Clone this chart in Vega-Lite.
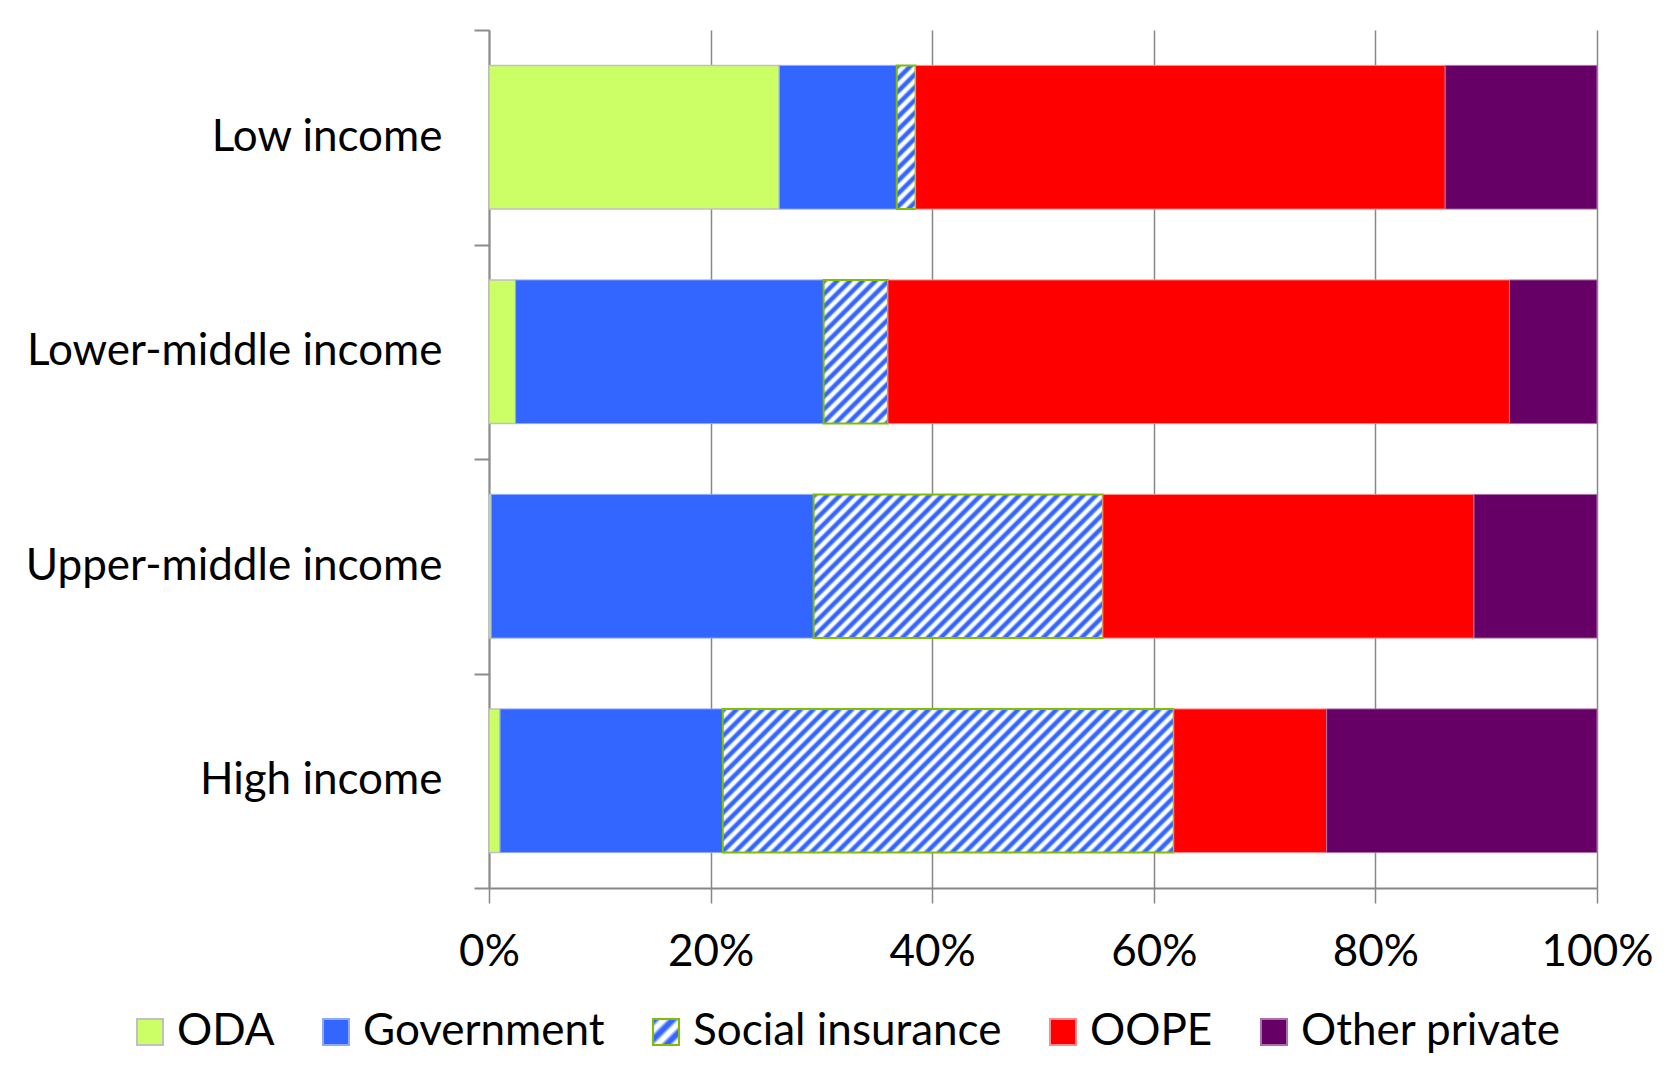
{
  "$schema": "https://vega.github.io/schema/vega-lite/v6.json",
  "width": 1108,
  "height": 858,
  "autosize": {"type": "none"},
  "padding": {"left": 489, "top": 30, "right": 82, "bottom": 196},
  "background": "white",
  "config": {"view": {"stroke": null}, "font": "Lato"},
  "params": [
    {"name": "hatch", "value": [
      {"offset":0,"color":"#36f"},{"offset":0.004,"color":"#36f"},{"offset":0.008,"color":"#fff"},{"offset":0.012,"color":"#fff"},
      {"offset":0.016,"color":"#36f"},{"offset":0.02,"color":"#36f"},{"offset":0.024,"color":"#fff"},{"offset":0.028,"color":"#fff"},
      {"offset":0.032,"color":"#36f"},{"offset":0.036,"color":"#36f"},{"offset":0.04,"color":"#fff"},{"offset":0.044,"color":"#fff"},
      {"offset":0.048,"color":"#36f"},{"offset":0.052,"color":"#36f"},{"offset":0.056,"color":"#fff"},{"offset":0.06,"color":"#fff"},
      {"offset":0.064,"color":"#36f"},{"offset":0.068,"color":"#36f"},{"offset":0.072,"color":"#fff"},{"offset":0.076,"color":"#fff"},
      {"offset":0.08,"color":"#36f"},{"offset":0.084,"color":"#36f"},{"offset":0.088,"color":"#fff"},{"offset":0.092,"color":"#fff"},
      {"offset":0.096,"color":"#36f"},{"offset":0.1,"color":"#36f"},{"offset":0.104,"color":"#fff"},{"offset":0.108,"color":"#fff"},
      {"offset":0.112,"color":"#36f"},{"offset":0.116,"color":"#36f"},{"offset":0.12,"color":"#fff"},{"offset":0.124,"color":"#fff"},
      {"offset":0.128,"color":"#36f"},{"offset":0.132,"color":"#36f"},{"offset":0.136,"color":"#fff"},{"offset":0.14,"color":"#fff"},
      {"offset":0.144,"color":"#36f"},{"offset":0.148,"color":"#36f"},{"offset":0.152,"color":"#fff"},{"offset":0.156,"color":"#fff"},
      {"offset":0.16,"color":"#36f"},{"offset":0.164,"color":"#36f"},{"offset":0.168,"color":"#fff"},{"offset":0.172,"color":"#fff"},
      {"offset":0.176,"color":"#36f"},{"offset":0.18,"color":"#36f"},{"offset":0.184,"color":"#fff"},{"offset":0.188,"color":"#fff"},
      {"offset":0.192,"color":"#36f"},{"offset":0.196,"color":"#36f"},{"offset":0.2,"color":"#fff"},{"offset":0.204,"color":"#fff"},
      {"offset":0.208,"color":"#36f"},{"offset":0.212,"color":"#36f"},{"offset":0.216,"color":"#fff"},{"offset":0.22,"color":"#fff"},
      {"offset":0.224,"color":"#36f"},{"offset":0.228,"color":"#36f"},{"offset":0.232,"color":"#fff"},{"offset":0.236,"color":"#fff"},
      {"offset":0.24,"color":"#36f"},{"offset":0.244,"color":"#36f"},{"offset":0.248,"color":"#fff"},{"offset":0.252,"color":"#fff"},
      {"offset":0.256,"color":"#36f"},{"offset":0.26,"color":"#36f"},{"offset":0.264,"color":"#fff"},{"offset":0.268,"color":"#fff"},
      {"offset":0.272,"color":"#36f"},{"offset":0.276,"color":"#36f"},{"offset":0.28,"color":"#fff"},{"offset":0.284,"color":"#fff"},
      {"offset":0.288,"color":"#36f"},{"offset":0.292,"color":"#36f"},{"offset":0.296,"color":"#fff"},{"offset":0.3,"color":"#fff"},
      {"offset":0.304,"color":"#36f"},{"offset":0.308,"color":"#36f"},{"offset":0.312,"color":"#fff"},{"offset":0.316,"color":"#fff"},
      {"offset":0.32,"color":"#36f"},{"offset":0.324,"color":"#36f"},{"offset":0.328,"color":"#fff"},{"offset":0.332,"color":"#fff"},
      {"offset":0.336,"color":"#36f"},{"offset":0.34,"color":"#36f"},{"offset":0.344,"color":"#fff"},{"offset":0.348,"color":"#fff"},
      {"offset":0.352,"color":"#36f"},{"offset":0.356,"color":"#36f"},{"offset":0.36,"color":"#fff"},{"offset":0.364,"color":"#fff"},
      {"offset":0.368,"color":"#36f"},{"offset":0.372,"color":"#36f"},{"offset":0.376,"color":"#fff"},{"offset":0.38,"color":"#fff"},
      {"offset":0.384,"color":"#36f"},{"offset":0.388,"color":"#36f"},{"offset":0.392,"color":"#fff"},{"offset":0.396,"color":"#fff"},
      {"offset":0.4,"color":"#36f"},{"offset":0.404,"color":"#36f"},{"offset":0.408,"color":"#fff"},{"offset":0.412,"color":"#fff"},
      {"offset":0.416,"color":"#36f"},{"offset":0.42,"color":"#36f"},{"offset":0.424,"color":"#fff"},{"offset":0.428,"color":"#fff"},
      {"offset":0.432,"color":"#36f"},{"offset":0.436,"color":"#36f"},{"offset":0.44,"color":"#fff"},{"offset":0.444,"color":"#fff"},
      {"offset":0.448,"color":"#36f"},{"offset":0.452,"color":"#36f"},{"offset":0.456,"color":"#fff"},{"offset":0.46,"color":"#fff"},
      {"offset":0.464,"color":"#36f"},{"offset":0.468,"color":"#36f"},{"offset":0.472,"color":"#fff"},{"offset":0.476,"color":"#fff"},
      {"offset":0.48,"color":"#36f"},{"offset":0.484,"color":"#36f"},{"offset":0.488,"color":"#fff"},{"offset":0.492,"color":"#fff"},
      {"offset":0.496,"color":"#36f"},{"offset":0.5,"color":"#36f"},{"offset":0.504,"color":"#fff"},{"offset":0.508,"color":"#fff"},
      {"offset":0.512,"color":"#36f"},{"offset":0.516,"color":"#36f"},{"offset":0.52,"color":"#fff"},{"offset":0.524,"color":"#fff"},
      {"offset":0.528,"color":"#36f"},{"offset":0.532,"color":"#36f"},{"offset":0.536,"color":"#fff"},{"offset":0.54,"color":"#fff"},
      {"offset":0.544,"color":"#36f"},{"offset":0.548,"color":"#36f"},{"offset":0.552,"color":"#fff"},{"offset":0.556,"color":"#fff"},
      {"offset":0.56,"color":"#36f"},{"offset":0.564,"color":"#36f"},{"offset":0.568,"color":"#fff"},{"offset":0.572,"color":"#fff"},
      {"offset":0.576,"color":"#36f"},{"offset":0.58,"color":"#36f"},{"offset":0.584,"color":"#fff"},{"offset":0.588,"color":"#fff"},
      {"offset":0.592,"color":"#36f"},{"offset":0.596,"color":"#36f"},{"offset":0.6,"color":"#fff"},{"offset":0.604,"color":"#fff"},
      {"offset":0.608,"color":"#36f"},{"offset":0.612,"color":"#36f"},{"offset":0.616,"color":"#fff"},{"offset":0.62,"color":"#fff"},
      {"offset":0.624,"color":"#36f"},{"offset":0.628,"color":"#36f"},{"offset":0.632,"color":"#fff"},{"offset":0.636,"color":"#fff"},
      {"offset":0.64,"color":"#36f"},{"offset":0.644,"color":"#36f"},{"offset":0.648,"color":"#fff"},{"offset":0.652,"color":"#fff"},
      {"offset":0.656,"color":"#36f"},{"offset":0.66,"color":"#36f"},{"offset":0.664,"color":"#fff"},{"offset":0.668,"color":"#fff"},
      {"offset":0.672,"color":"#36f"},{"offset":0.676,"color":"#36f"},{"offset":0.68,"color":"#fff"},{"offset":0.684,"color":"#fff"},
      {"offset":0.688,"color":"#36f"},{"offset":0.692,"color":"#36f"},{"offset":0.696,"color":"#fff"},{"offset":0.7,"color":"#fff"},
      {"offset":0.704,"color":"#36f"},{"offset":0.708,"color":"#36f"},{"offset":0.712,"color":"#fff"},{"offset":0.716,"color":"#fff"},
      {"offset":0.72,"color":"#36f"},{"offset":0.724,"color":"#36f"},{"offset":0.728,"color":"#fff"},{"offset":0.732,"color":"#fff"},
      {"offset":0.736,"color":"#36f"},{"offset":0.74,"color":"#36f"},{"offset":0.744,"color":"#fff"},{"offset":0.748,"color":"#fff"},
      {"offset":0.752,"color":"#36f"},{"offset":0.756,"color":"#36f"},{"offset":0.76,"color":"#fff"},{"offset":0.764,"color":"#fff"},
      {"offset":0.768,"color":"#36f"},{"offset":0.772,"color":"#36f"},{"offset":0.776,"color":"#fff"},{"offset":0.78,"color":"#fff"},
      {"offset":0.784,"color":"#36f"},{"offset":0.788,"color":"#36f"},{"offset":0.792,"color":"#fff"},{"offset":0.796,"color":"#fff"},
      {"offset":0.8,"color":"#36f"},{"offset":0.804,"color":"#36f"},{"offset":0.808,"color":"#fff"},{"offset":0.812,"color":"#fff"},
      {"offset":0.816,"color":"#36f"},{"offset":0.82,"color":"#36f"},{"offset":0.824,"color":"#fff"},{"offset":0.828,"color":"#fff"},
      {"offset":0.832,"color":"#36f"},{"offset":0.836,"color":"#36f"},{"offset":0.84,"color":"#fff"},{"offset":0.844,"color":"#fff"},
      {"offset":0.848,"color":"#36f"},{"offset":0.852,"color":"#36f"},{"offset":0.856,"color":"#fff"},{"offset":0.86,"color":"#fff"},
      {"offset":0.864,"color":"#36f"},{"offset":0.868,"color":"#36f"},{"offset":0.872,"color":"#fff"},{"offset":0.876,"color":"#fff"},
      {"offset":0.88,"color":"#36f"},{"offset":0.884,"color":"#36f"},{"offset":0.888,"color":"#fff"},{"offset":0.892,"color":"#fff"},
      {"offset":0.896,"color":"#36f"},{"offset":0.9,"color":"#36f"},{"offset":0.904,"color":"#fff"},{"offset":0.908,"color":"#fff"},
      {"offset":0.912,"color":"#36f"},{"offset":0.916,"color":"#36f"},{"offset":0.92,"color":"#fff"},{"offset":0.924,"color":"#fff"},
      {"offset":0.928,"color":"#36f"},{"offset":0.932,"color":"#36f"},{"offset":0.936,"color":"#fff"},{"offset":0.94,"color":"#fff"},
      {"offset":0.944,"color":"#36f"},{"offset":0.948,"color":"#36f"},{"offset":0.952,"color":"#fff"},{"offset":0.956,"color":"#fff"},
      {"offset":0.96,"color":"#36f"},{"offset":0.964,"color":"#36f"},{"offset":0.968,"color":"#fff"},{"offset":0.972,"color":"#fff"},
      {"offset":0.976,"color":"#36f"},{"offset":0.98,"color":"#36f"},{"offset":0.984,"color":"#fff"},{"offset":0.988,"color":"#fff"},
      {"offset":0.992,"color":"#36f"},{"offset":0.996,"color":"#36f"},{"offset":1,"color":"#fff"}
    ]}
  ],
  "data": {"values": [
    {"income": "Low income", "source": "ODA", "value": 26.2},
    {"income": "Low income", "source": "Government", "value": 10.6},
    {"income": "Low income", "source": "Social insurance", "value": 1.7},
    {"income": "Low income", "source": "OOPE", "value": 47.8},
    {"income": "Low income", "source": "Other private", "value": 13.7},
    {"income": "Lower-middle income", "source": "ODA", "value": 2.4},
    {"income": "Lower-middle income", "source": "Government", "value": 27.8},
    {"income": "Lower-middle income", "source": "Social insurance", "value": 5.8},
    {"income": "Lower-middle income", "source": "OOPE", "value": 56.1},
    {"income": "Lower-middle income", "source": "Other private", "value": 7.9},
    {"income": "Upper-middle income", "source": "ODA", "value": 0.2},
    {"income": "Upper-middle income", "source": "Government", "value": 29.1},
    {"income": "Upper-middle income", "source": "Social insurance", "value": 26.1},
    {"income": "Upper-middle income", "source": "OOPE", "value": 33.5},
    {"income": "Upper-middle income", "source": "Other private", "value": 11.1},
    {"income": "High income", "source": "ODA", "value": 1.0},
    {"income": "High income", "source": "Government", "value": 20.1},
    {"income": "High income", "source": "Social insurance", "value": 40.7},
    {"income": "High income", "source": "OOPE", "value": 13.8},
    {"income": "High income", "source": "Other private", "value": 24.4}
  ]},
  "transform": [
    {"calculate": "indexof(['ODA','Government','Social insurance','OOPE','Other private'], datum.source)", "as": "k"}
  ],
  "mark": {"type": "bar", "height": {"band": 0.67}},
  "encoding": {
    "y": {
      "field": "income", "type": "nominal",
      "sort": ["Low income", "Lower-middle income", "Upper-middle income", "High income"],
      "scale": {"paddingInner": 0, "paddingOuter": 0},
      "axis": {
        "title": null, "tickBand": "extent", "domainColor": "#8c8c8c", "domainWidth": 2,
        "tickColor": "#8c8c8c", "tickSize": 15, "tickWidth": 2,
        "labelFont": "Lato", "labelFontSize": 44, "labelColor": "#000", "labelPadding": 32, "labelLimit": 1000
      }
    },
    "x": {
      "field": "value", "type": "quantitative", "stack": "zero",
      "scale": {"domain": [0, 100], "nice": false},
      "axis": {
        "title": null, "values": [0, 20, 40, 60, 80, 100], "labelExpr": "datum.value + '%'",
        "grid": true, "gridColor": "#878787", "gridWidth": 1.5,
        "domainColor": "#878787", "domainWidth": 2,
        "tickColor": "#878787", "tickSize": 15, "tickWidth": 1.5,
        "labelFont": "Lato", "labelFontSize": 44, "labelColor": "#000", "labelPadding": 27, "labelFlush": false
      }
    },
    "order": {"field": "k", "type": "quantitative"},
    "fill": {
      "field": "source", "type": "nominal",
      "sort": ["ODA", "Government", "Social insurance", "OOPE", "Other private"],
      "scale": {
        "domain": ["ODA", "Government", "Social insurance", "OOPE", "Other private"],
        "range": ["#ccff66", "#3366ff", {"expr": "{gradient: 'linear', x1: 0, y1: 0, x2: 22, y2: 22, stops: hatch}"}, "#ff0000", "#660066"]
      },
      "condition": {
        "test": "datum.source === 'Social insurance'",
        "value": {"expr": "{gradient: 'linear', x1: 0, y1: 0, x2: 800*datum.value*11.08/(pow(datum.value*11.08,2)+20650), y2: 800*143.7/(pow(datum.value*11.08,2)+20650), stops: hatch}"}
      },
      "legend": {
        "title": null, "orient": "none", "legendX": -361, "legendY": 980,
        "direction": "horizontal", "columns": 5, "columnPadding": 39,
        "symbolType": "square", "symbolSize": 676, "symbolStrokeWidth": 2, "symbolOpacity": 1,
        "labelFont": "Lato", "labelFontSize": 44, "labelColor": "#000", "labelOffset": 5, "labelLimit": 1000
      }
    },
    "stroke": {
      "field": "source", "type": "nominal",
      "sort": ["ODA", "Government", "Social insurance", "OOPE", "Other private"],
      "scale": {
        "domain": ["ODA", "Government", "Social insurance", "OOPE", "Other private"],
        "range": ["#c0c0c0", "#8fa8ff", "#7fbf00", "#ff8c8c", "#a770a7"]
      },
      "legend": {
        "title": null, "orient": "none", "legendX": -361, "legendY": 980,
        "direction": "horizontal", "columns": 5, "columnPadding": 39,
        "symbolType": "square", "symbolSize": 676, "symbolStrokeWidth": 2, "symbolOpacity": 1,
        "labelFont": "Lato", "labelFontSize": 44, "labelColor": "#000", "labelOffset": 5, "labelLimit": 1000
      }
    },
    "strokeWidth": {
      "condition": [
        {"test": "datum.source === 'Social insurance'", "value": 2},
        {"test": "datum.source === 'ODA'", "value": 1.5}
      ],
      "value": 1
    }
  }
}
